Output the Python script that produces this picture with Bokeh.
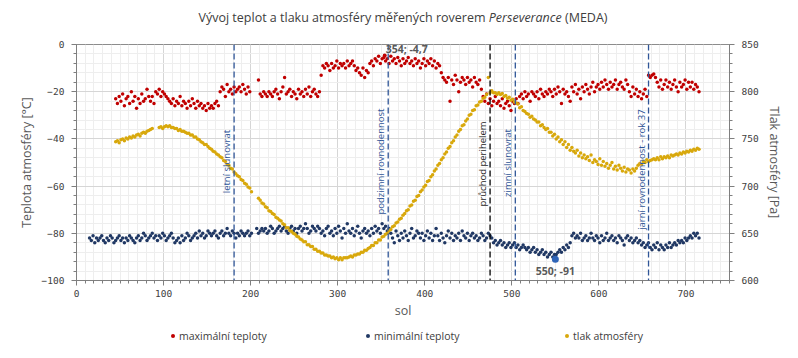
import math
from bokeh.plotting import figure
from bokeh.layouts import column
from bokeh.models import (Range1d, LinearAxis, SingleIntervalTicker, Span, Label, Div)
from bokeh.embed import file_html
from bokeh.resources import INLINE

nan = float("nan")

# ---------------- data ----------------
# maximum temperatures [°C], sols 45, 47, ... 715
t_max = [
    -23, -25, -22, -24, -21, -26, -23, -22, -25, -20,
    -24, -22, -27, -23, -25, -21, -24, -23, -19, -22,
    -24, -22, -25, -20, -21, -19, -22, -20, -21, -22,
    -23, -24, -25, -23, -26, -24, -25, -22, -26, -24,
    -25, -27, -24, -26, -23, -25, -27, -24, -26, -25,
    -27, -26, -28, -25, -27, -26, -27, -25, -24, -26,
    -20, -18, -19, -22, -17, -20, -19, -21, -18, -20,
    -19, -18, -20, -17, -19, -21, -18, -20, nan, nan,
    nan, nan, -15, -21, -22, -20, -21, -22, -20, -21,
    -22, -20, -19, -21, -23, -20, -18, -14, -21, -20,
    -19, -22, -20, -21, -23, -19, -21, -20, -22, -19,
    -21, -18, -22, -20, -19, -21, -22, -20, -13, -9,
    -10, -8, -9, -11, -8, -10, -9, -7, -10, -8,
    -9, -8, -10, -7, -9, -8, -7, -9, -11, -10,
    -12, -13, -10, -14, -11, -12, -8, -7, -9, -6,
    -7, -5, -8, -6, -5.5, -7, -6, -8, -5, -7,
    -6, -8, -5.5, -7, -9, -6, -8, -7, -5.5, -8,
    -7, -9, -6, -8, -7, -10, -8, -6, -9, -7,
    -8, -6, -9, -7, -10, -8, -9, -12, -14, -15,
    -16, -14, -24, -15, -17, -13, -15, -20, -16, -14,
    -15, -17, -14, -16, -15, -18, -14, -16, -17, -15,
    -19, -22, -24, -21, -25, -23, -26, -24, -22, -25,
    -24, -26, -23, -27, -25, -24, -26, -28, -24, -25,
    -23, -25, -22, -21, -23, -20, -22, -21, -24, -20,
    -21, -22, -20, -23, -19, -21, -22, -20, -21, -19,
    -20, -22, -19, -21, -18, -20, -25, -19, -21, -20,
    -22, -24, -18, -20, -17, -21, -19, -23, -18, -20,
    -17, -19, -21, -18, -16, -20, -18, -17, -19, -16,
    -18, -15, -17, -19, -16, -18, -17, -15, -19, -17,
    -16, -18, -19, -15, -17, -20, -22, -18, -21, -19,
    -22, -20, -23, -21, -19, -22, -13, -14, -13, -12.5,
    -14, -16, -18, -15, -19, -17, -15, -18, -16, -19,
    -17, -15, -18, -20, -16, -18, -17, -15, -19, -16,
    -18, -16, -19, -17, -18, -20,
]
sol_max = list(range(45, 45 + 2 * len(t_max), 2))

# atmospheric pressure [Pa], sols 45, 47, ... 715
pressure = [
    747, 748, 746, 749, 750, 748, 751, 750, 752, 751,
    753, 752, 754, 755, 753, 756, 757, 756, 758, 759,
    760, 761, nan, nan, nan, 762, 763, 761, 763, 764,
    763, 764, 762, 762, 761, 761, 759, 760, 758, 758,
    757, 756, 756, 754, 754, 752, 752, 750, 749, 747,
    746, 744, 744, 742, 740, 739, 737, 736, 734, 733,
    731, 730, 727, 726, 723, 722, 719, 718, 715, 713,
    711, 710, 707, 706, 703, 702, 699, 698, 694, nan,
    nan, nan, 687, 685, 682, 681, 678, 677, 674, 673,
    671, 670, 667, 666, 664, 663, 660, 659, 656, 656,
    653, 652, 650, 649, 647, 646, 644, 643, 641, 641,
    638, 638, 636, 636, 633, 633, 631, 631, 629, 629,
    627, 627, 626, 626, 624, 625, 623, 624, 622, 624,
    622, 624, 624, 624, 625, 626, 625, 627, 627, 628,
    628, 630, 630, 632, 632, 634, 635, 637, 637, 640,
    640, 643, 643, 646, 647, 649, 650, 653, 654, 657,
    658, 661, 662, 665, 666, 669, 671, 674, 675, 679,
    680, 684, 685, 689, 690, 694, 696, 699, 701, 705,
    706, 710, 712, 716, 718, 722, 724, 728, 730, 734,
    736, 740, 742, 746, 748, 752, 754, 758, 760, 764,
    765, 769, 771, 775, 776, 780, 781, 785, 786, 789,
    790, 793, 794, 797, 815, 799, 801, 799, 799, 797,
    799, 797, 798, 795, 796, 793, 794, 791, 792, 789,
    788, 787, 783, 784, 780, 779, 777, 776, 773, 774,
    771, 770, 768, 768, 764, 765, 762, 760, 761, 757,
    757, 753, 755, 750, 752, 747, 749, 744, 747, 741,
    744, 738, 741, 737, 735, 738, 732, 735, 730, 733,
    729, 731, 727, 733, 725, 728, 726, 723, 729, 722,
    726, 721, 724, 719, 722, 725, 718, 721, 717, 722,
    719, 716, 720, 715, 718, 717, 714, 718, 716, 719,
    722, 724, 723, 726, 725, 728, 726, 727, 728, 729,
    728, 730, 728, 731, 729, 731, 730, 732, 730, 733,
    732, 733, 734, 733, 735, 734, 736, 735, 737, 736,
    738, 737, 739, 738, 740, 739,
]
sol_p = list(range(45, 45 + 2 * len(pressure), 2))

# minimum temperatures [°C], sols 15, 17, ... 715
t_min = [
    -82, -83, -81, -84, -82, -83, -82, -81, -83, -84,
    -82, -83, -81, -82, -84, -83, -82, -81, -83, -82,
    -84, -82, -83, -81, -82, -83, -84, -82, -81, -83,
    -82, -80, -81, -83, -82, -81, -80, -82, -81, -83,
    -81, -82, -80, -81, -83, -82, -81, -80, -82, -84,
    -83, -82, -84, -81, -83, -82, -80, -81, -83, -82,
    -81, -80, -82, -79, -81, -80, -82, -81, -79, -80,
    -81, -80, -79, -81, -82, -80, -79, -81, -80, -78,
    -80, -81, -79, -80, -82, -80, -81, -79, -80, -81,
    -80, -79, -81, -80, nan, nan, -78, -80, -79, -78,
    -79, -78, -80, -79, -77, -78, -80, -79, -78, -77,
    -79, -78, -77, -79, -80, -78, -77, -79, -78, -80,
    -78, -77, -79, -78, -76, -78, -80, -79, -77, -78,
    -79, -77, -78, -80, -79, -81, -78, -77, -80, -79,
    -81, -78, -80, -77, -79, -82, -78, -80, -76, -79,
    -80, -78, -81, -79, -77, -80, -82, -79, -78, -80,
    -79, -81, -78, -80, -77, -79, -78, -80, -76, -78,
    -77, -79, -78, -80, -82, -84, -79, -81, -83, -80,
    -82, -79, -81, -83, -80, -78, -82, -81, -79, -80,
    -82, -80, -83, -81, -79, -82, -80, -83, -81, -78,
    -81, -83, -80, -82, -84, -81, -79, -82, -80, -83,
    -81, -82, -80, -83, -79, -81, -82, -80, -83, -81,
    -80, -82, -81, -83, -82, -80, -81, -83, -82, -80,
    -81, -82, -84, -83, -85, -84, -83, -85, -84, -86,
    -85, -84, -86, -85, -84, -86, -85, -87, -86, -85,
    -86, -87, -86, -88, -87, -86, -88, -87, -89, -88,
    -87, -89, -88, -90, -89, -88, -90, -89, -89, -88,
    -87, -88, -86, -87, -85, -86, -84, -81, -80, -82,
    -81, -82, -80, -83, -82, -81, -83, -82, -80, -82,
    -83, -81, -82, -84, -81, -83, -82, -80, -83, -82,
    -81, -83, -82, -84, -81, -82, -83, -85, -82, -81,
    -83, -82, -84, -83, -82, -84, -83, -85, -84, -86,
    -85, -84, -86, -87, -85, -86, -84, -87, -85, -86,
    -87, -85, -86, -84, -86, -85, -84, -85, -83, -84,
    -83, -84, -82, -83, -82, -81, -82, -80, -81, -80,
    -82,
]
sol_min = list(range(15, 15 + 2 * len(t_min), 2))

# highlighted extremes
max_sol, max_val = [354], [-4.7]
min_sol, min_val = [550], [-91]

# season markers
event_sols = [181, 358, 475, 504, 657]
event_names = ["letní slunovrat", "podzimní rovnodennost", "průchod perihelem",
               "zimní slunovrat", "jarní rovnodennost - rok 37"]

series_names = ["maximální teploty", "minimální teploty", "tlak atmosféry"]

RED = "#c00000"
NAVY = "#203864"
GOLD = "#d8a80c"
BLUE_LINE = "#2f5597"
FONT = "Open Sans"

p = figure(width=790, height=288, output_backend="svg", toolbar_location=None,
           x_range=Range1d(0, 750), y_range=Range1d(-100, 0),
           min_border_left=76, min_border_right=61, min_border_top=8,
           min_border_bottom=44, background_fill_color="#ffffff",
           border_fill_color="#ffffff", margin=0)
p.outline_line_color = "#8c8c8c"
p.extra_y_ranges = {"p": Range1d(600, 850)}

xt = SingleIntervalTicker(interval=100, num_minor_ticks=10)
yt = SingleIntervalTicker(interval=20, num_minor_ticks=5)
p.xaxis.ticker = xt
p.xgrid.ticker = xt
p.yaxis.ticker = yt
p.ygrid.ticker = yt
p.xaxis.axis_label = "sol"
p.yaxis.axis_label = "Teplota atmosféry [°C]"

ax_r = LinearAxis(y_range_name="p", ticker=SingleIntervalTicker(interval=50, num_minor_ticks=5),
                  axis_label="Tlak atmosféry [Pa]")
p.add_layout(ax_r, "right")

for ax in [p.xaxis[0], p.yaxis[0], ax_r]:
    ax.axis_line_color = "#7f7f7f"
    ax.major_tick_line_color = "#7f7f7f"
    ax.minor_tick_line_color = "#7f7f7f"
    ax.major_tick_out = 5
    ax.major_tick_in = 0
    ax.minor_tick_out = 3
    ax.minor_tick_in = 0
    ax.major_label_text_font = "DejaVu Sans Mono"
    ax.major_label_text_font_size = "9.5px"
    ax.major_label_text_color = "#404040"
    ax.major_label_standoff = 7
    ax.axis_label_text_font = FONT
    ax.axis_label_text_font_size = "12.5px"
    ax.axis_label_text_font_style = "normal"
    ax.axis_label_text_color = "#595959"
    ax.axis_label_standoff = 4
p.xaxis.major_label_standoff = 4
p.xaxis.axis_label_standoff = 2

for g in [p.xgrid[0], p.ygrid[0]]:
    g.grid_line_color = "#d6d6d6"
    g.minor_grid_line_color = "#eeeeee"

# season lines
for s, name in zip(event_sols, event_names):
    col = "#000000" if "perihel" in name else BLUE_LINE
    p.add_layout(Span(location=s, dimension="height", line_color=col,
                      line_dash="6 3", line_width=1.3))

label_y = [-49.6, -49.6, -50.6, -50.2, -53]
for s, name, ly in zip(event_sols, event_names, label_y):
    col = "#262626" if "perihel" in name else BLUE_LINE
    p.add_layout(Label(x=s, y=ly, text=name, angle=math.pi / 2, x_offset=-1,
                       text_align="center", text_baseline="bottom",
                       text_font=FONT, text_font_size="9.5px", text_color=col))

p.scatter(sol_max, t_max, size=3.5, color=RED, line_width=0)
p.scatter(sol_min, t_min, size=3.5, color=NAVY, line_width=0)
p.scatter(sol_p, pressure, size=3.5, color=GOLD, line_width=0, y_range_name="p")
p.scatter(max_sol, max_val, size=4, color=RED, line_width=0)
p.scatter(min_sol, min_val, size=7, color="#2e64b8", line_width=0)

p.add_layout(Label(x=max_sol[0], y=max_val[0], text="354; -4,7", x_offset=1,
                   text_align="left", text_baseline="bottom", text_font=FONT,
                   text_font_size="10.5px", text_font_style="bold", text_color="#595959"))
p.add_layout(Label(x=min_sol[0], y=min_val[0], text="550; -91", y_offset=-5,
                   text_align="center", text_baseline="top", text_font=FONT,
                   text_font_size="10.5px", text_font_style="bold", text_color="#595959"))

title = Div(width=790, height=36, margin=0, text=(
    '<div style="width:790px;height:36px;line-height:36px;text-align:center;'
    'padding-left:16px;box-sizing:border-box;font-family:\'Open Sans\';font-size:12.5px;'
    'color:#404040;white-space:nowrap;">'
    'Vývoj teplot a tlaku atmosféry měřených roverem <i>Perseverance</i> (MEDA)</div>'))

leg_html = '<div style="position:relative;width:790px;height:26px;font-family:\'Open Sans\';font-size:10.5px;color:#404040;">'
for name, col, mx in zip(series_names, [RED, NAVY, GOLD], [173, 368, 567]):
    leg_html += (f'<span style="position:absolute;left:{mx - 2}px;top:10px;width:4px;height:4px;'
                 f'border-radius:2px;background:{col};"></span>'
                 f'<span style="position:absolute;left:{mx + 6}px;top:4px;line-height:16px;'
                 f'white-space:nowrap;">{name}</span>')
leg_html += '</div>'
legend_div = Div(width=790, height=26, margin=0, text=leg_html)

layout = column(title, p, legend_div, spacing=0)
open("out.html", "w").write(file_html(layout, INLINE))
